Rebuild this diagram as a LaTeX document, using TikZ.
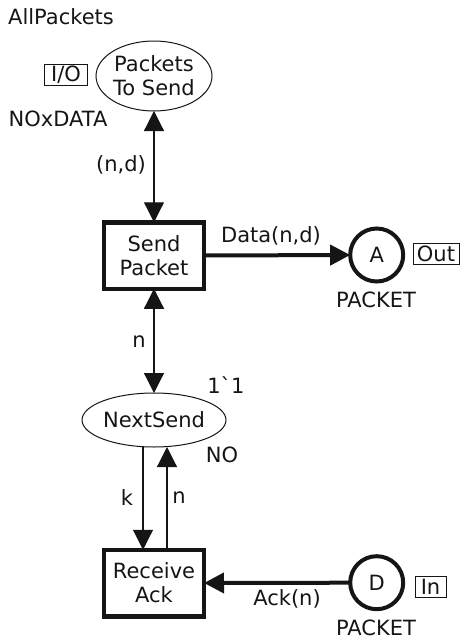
\documentclass[tikz,border=0pt]{standalone}
\usepackage{fontspec}
\newfontfamily\vf{DejaVu Sans}
\usetikzlibrary{arrows.meta,shapes.geometric}
\definecolor{ink}{HTML}{151515}
\tikzset{
  x=1pt,y=-1pt,
  every node/.style={font=\vf\fontsize{21}{24}\selectfont,text=ink,align=center,inner sep=0pt,outer sep=0pt},
  placeell/.style={draw=ink,ellipse,line width=1pt},
  porta/.style={draw=ink,circle,line width=4pt,minimum size=53pt},
  trans/.style={draw=ink,rectangle,line width=4.5pt,minimum width=100pt,minimum height=66.5pt},
  tagbox/.style={draw=ink,rectangle,line width=0.8pt,minimum height=21pt,inner xsep=2pt},
  thinarc/.style={draw=ink,line width=1.2pt},
  thickarc/.style={draw=ink,line width=4pt},
  hd/.style={-{Triangle[length=20pt,width=20pt,color=ink]}},
  hdd/.style={{Triangle[length=20pt,width=20pt,color=ink]}-{Triangle[length=20pt,width=20pt,color=ink]}}
}
\begin{document}
\begin{tikzpicture}
\useasboundingbox (0,0) rectangle (460,640);
\node[placeell,minimum width=116pt,minimum height=70pt] (pk) at (154,76) {Packets\\To Send};
\node[trans] (send) at (154,255.5) {Send\\Packet};
\node[porta] (a) at (376.7,255) {A};
\node[placeell,minimum width=135pt,minimum height=54pt] (next) at (154,420) {NextSend};
\node[trans] (recv) at (154,583) {Receive\\Ack};
\node[porta] (d) at (376.7,582.7) {D};
\node[tagbox,minimum width=43pt] (io) at (66,74.5) {I/O};
\node[tagbox,minimum width=46pt] (out) at (436,253.5) {Out};
\node[tagbox,minimum width=31pt] (in) at (430.5,586.5) {In};
\node (allp) at (61,17) {AllPackets};
\node (nox) at (58,119) {NOxDATA};
\node (pka) at (376,300) {PACKET};
\node (pkd) at (376,628) {PACKET};
\node (init) at (226,385) {1`1};
\node (no) at (222,455) {NO};
\node (l1) at (121,165) {(n,d)};
\node (l2) at (271,236) {Data(n,d)};
\node (l3) at (139,342) {n};
\node (l4) at (127,498) {k};
\node (l5) at (179,498) {n};
\node (l6) at (287,599) {Ack(n)};
\draw[thinarc,hdd] (send.north) -- (pk.south);
\draw[thickarc,hd] (send.east) -- (a.west);
\draw[thinarc,hdd] (send.south) -- (next.north);
\draw[thinarc,hd] ([xshift=-11pt]next.south) -- ([xshift=-11pt]recv.north);
\draw[thinarc,hd] ([xshift=13pt]recv.north) -- ([xshift=13pt]next.south);
\draw[thickarc,hd] (d.west) -- (recv.east);
\end{tikzpicture}
\end{document}
